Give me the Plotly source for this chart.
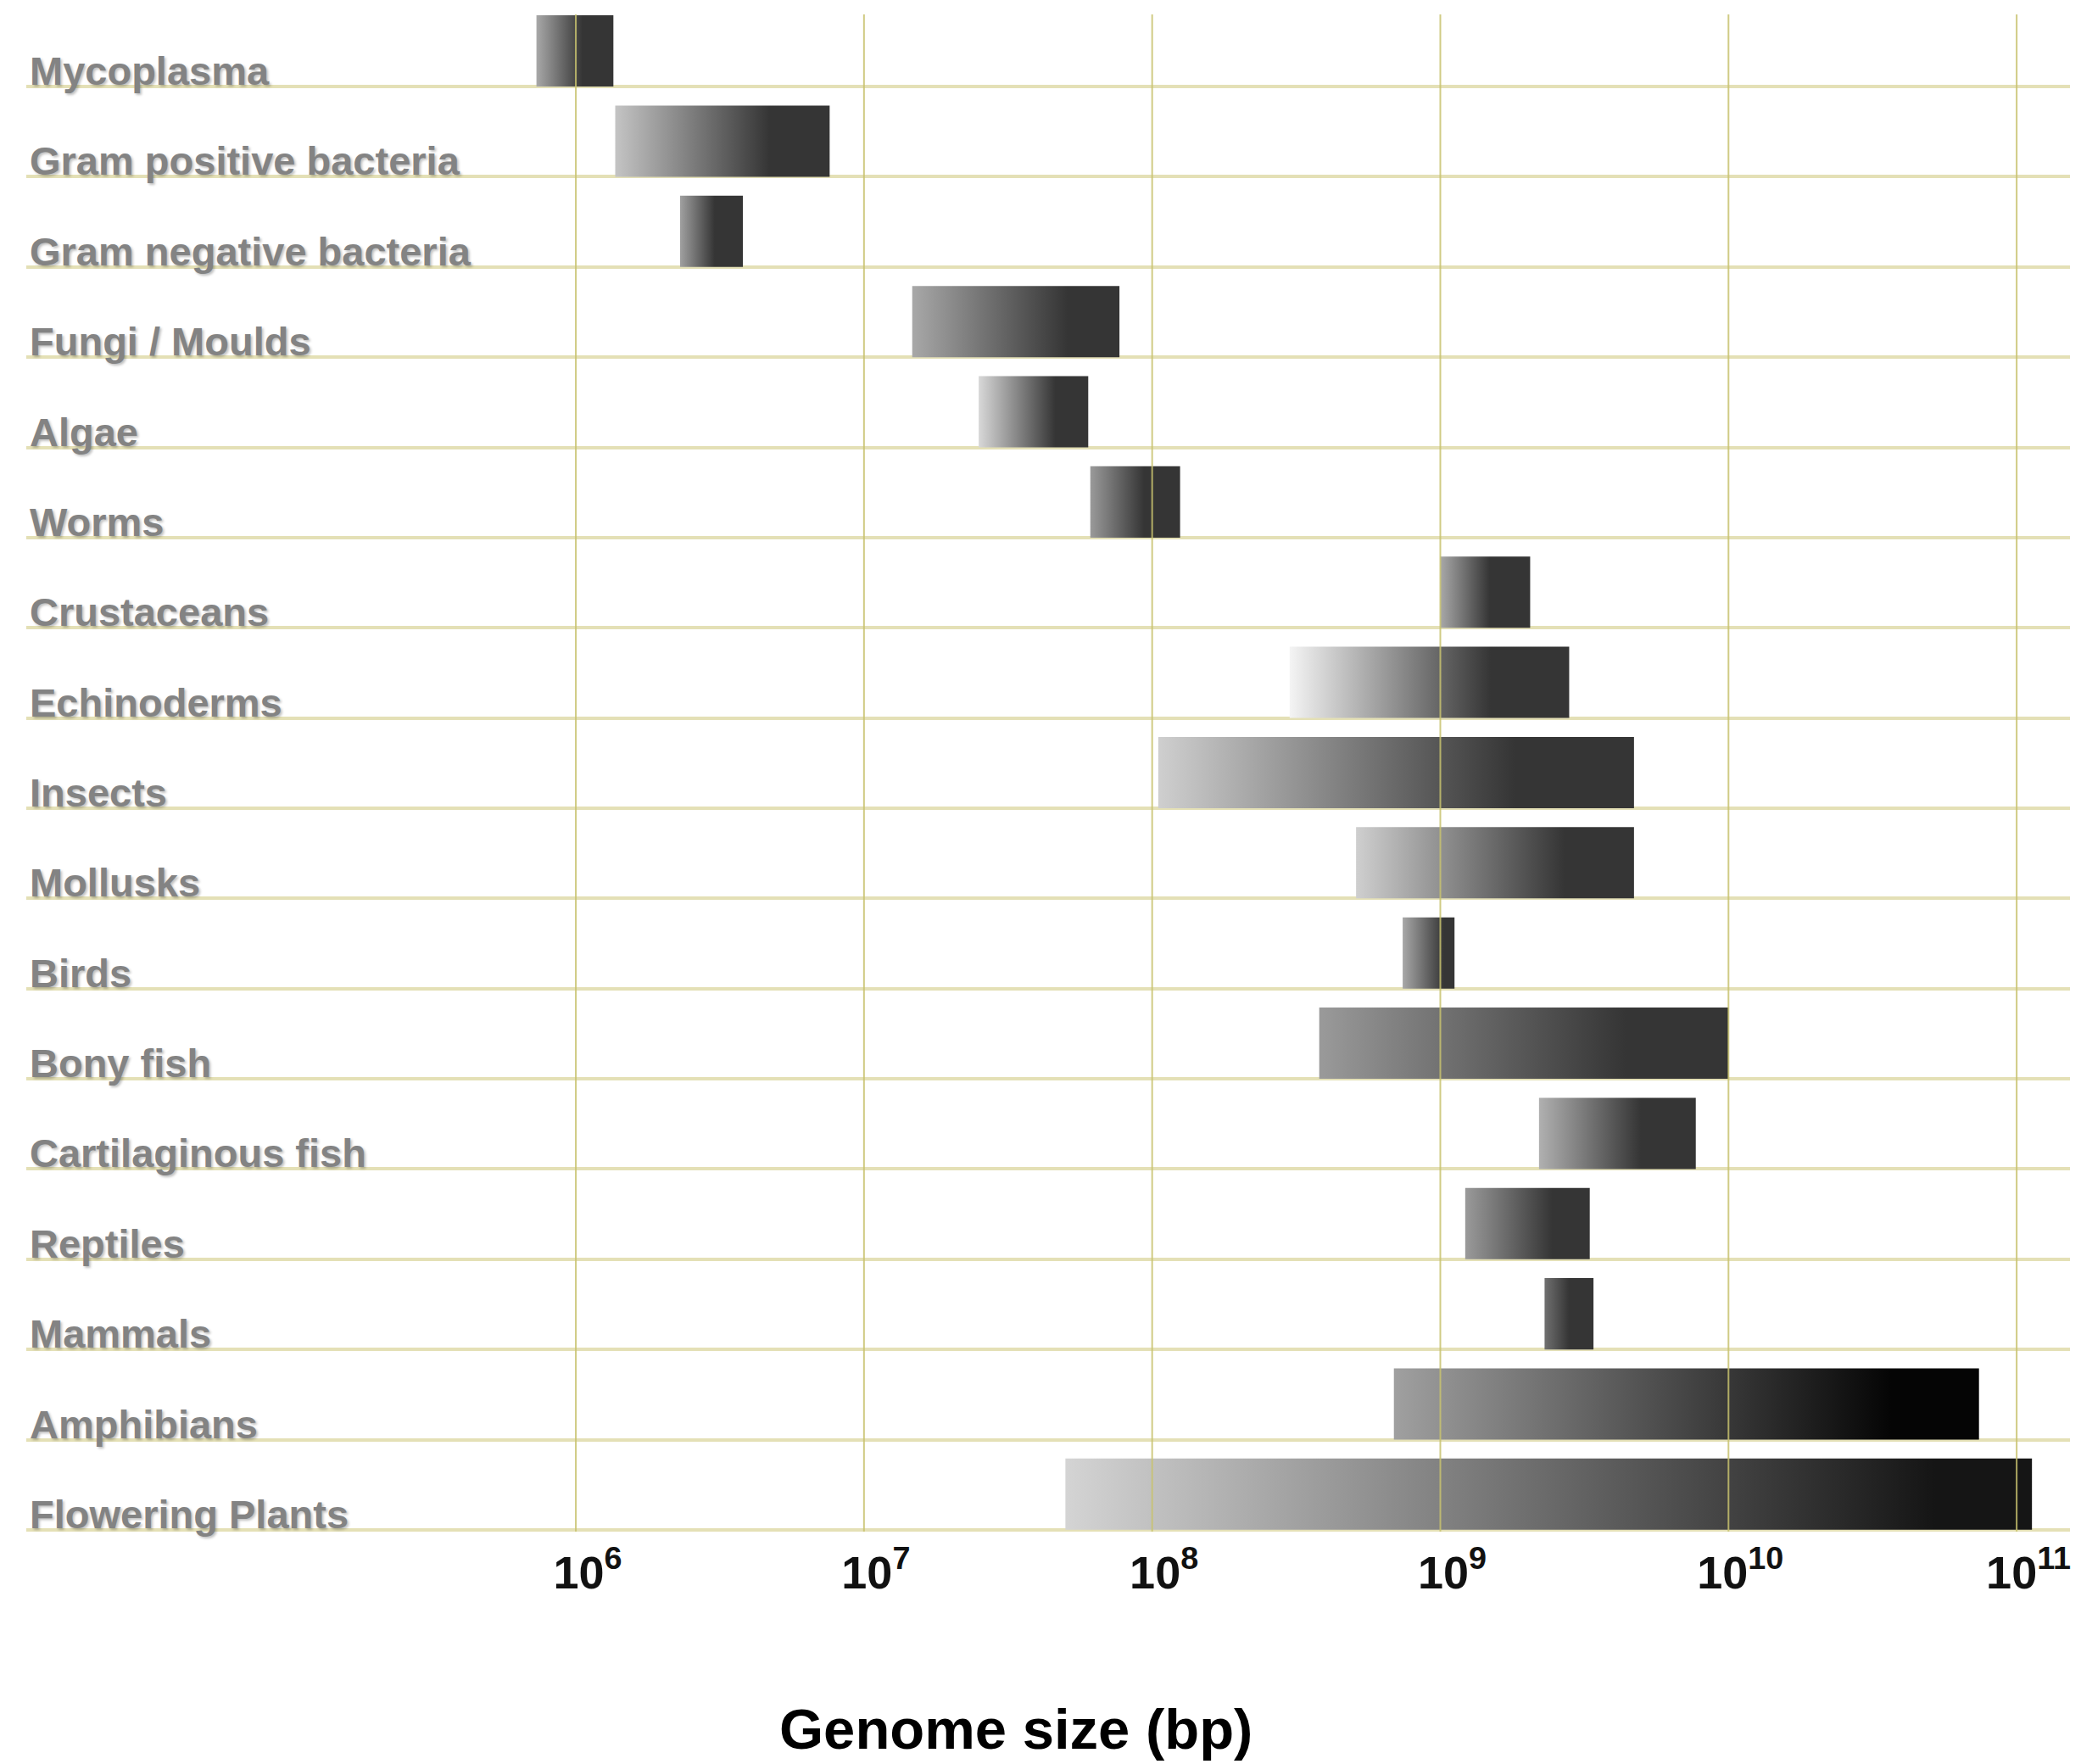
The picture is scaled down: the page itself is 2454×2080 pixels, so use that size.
import plotly.graph_objects as go

# ---------------- data ----------------
categories = [
    "Mycoplasma", "Gram positive bacteria", "Gram negative bacteria",
    "Fungi / Moulds", "Algae", "Worms", "Crustaceans", "Echinoderms",
    "Insects", "Mollusks", "Birds", "Bony fish", "Cartilaginous fish",
    "Reptiles", "Mammals", "Amphibians", "Flowering Plants",
]
min_bp = [7.3e5, 1.37e6, 2.3e6, 1.47e7, 2.5e7, 6.1e7, 1.0e9, 3.0e8,
          1.05e8, 5.1e8, 7.4e8, 3.8e8, 2.2e9, 1.22e9, 2.3e9, 6.9e8, 5.0e7]
max_bp = [1.35e6, 7.6e6, 3.8e6, 7.7e7, 6.0e7, 1.25e8, 2.05e9, 2.8e9,
          4.7e9, 4.7e9, 1.12e9, 1.0e10, 7.7e9, 3.3e9, 3.4e9, 7.4e10, 1.13e11]
tick_vals = [1e6, 1e7, 1e8, 1e9, 1e10, 1e11]
tick_text = ["10<sup>6</sup>", "10<sup>7</sup>", "10<sup>8</sup>",
             "10<sup>9</sup>", "10<sup>10</sup>", "10<sup>11</sup>"]
x_title = "Genome size (bp)"

# ---------------- styles ----------------
# (light shade at left, position where dark is reached, dark shade)
grad_light = ["#a8a8a8", "#c4c4c4", "#a0a0a0", "#a8a8a8", "#d8d8d8", "#9a9a9a",
              "#a8a8a8", "#f4f4f4", "#cfcfcf", "#cfcfcf", "#a8a8a8", "#9a9a9a",
              "#b0b0b0", "#9a9a9a", "#707070", "#a0a0a0", "#d4d4d4"]
grad_stop = [0.6, 0.72, 0.55, 0.75, 0.7, 0.6, 0.55, 0.72, 0.75, 0.75, 0.8,
             0.75, 0.65, 0.7, 0.5, 0.85, 0.9]
grad_dark = ["#353535"] * 15 + ["#050505", "#151515"]
BAR_H = 0.79
H_GRID = "#e4e0b6"
V_GRID = "rgba(200,194,110,0.85)"
LABEL_COLOR = "#838383"

fig = go.Figure()

for i, (cat, lo, hi) in enumerate(zip(categories, min_bp, max_bp)):
    fig.add_trace(go.Scatter(
        x=[lo, hi, hi, lo, lo],
        y=[i, i, i - BAR_H, i - BAR_H, i],
        mode="lines",
        line=dict(width=0, color=grad_dark[i]),
        fill="toself",
        fillcolor=grad_dark[i],
        fillgradient=dict(
            type="horizontal",
            colorscale=[[0, grad_light[i]], [grad_stop[i], grad_dark[i]],
                        [1, grad_dark[i]]],
        ),
        name=cat,
        hoverinfo="name",
        showlegend=False,
    ))

# category labels sitting on their baselines
annotations = []
for i, cat in enumerate(categories):
    annotations.append(dict(
        text=cat, xref="paper", x=0, xanchor="left", xshift=2,
        yref="y", y=i, yanchor="bottom", yshift=-10,
        showarrow=False,
        font=dict(family="Liberation Sans, Arial, sans-serif", size=47,
                  color=LABEL_COLOR, weight=700,
                  shadow="2px 2px 3px rgba(0,0,0,0.25)"),
    ))

annotations.append(dict(
    text=x_title, xref="paper", x=0.4842, xanchor="center",
    yref="paper", y=-0.1300, yanchor="middle", showarrow=False,
    font=dict(family="Liberation Sans, Arial, sans-serif", size=67,
              color="#000000", weight=700),
))

# vertical decade lines drawn over the bars
shapes = []
for v in tick_vals:
    shapes.append(dict(type="line", xref="x", yref="paper", x0=v, x1=v,
                       y0=0, y1=1, layer="above",
                       line=dict(color=V_GRID, width=2)))

# page body has an 8px margin: size the figure so the plot lands where the
# reference has it
fig.update_layout(
    width=2446, height=2072,
    margin=dict(l=23, r=13, t=9, b=274),
    paper_bgcolor="white", plot_bgcolor="white",
    annotations=annotations, shapes=shapes,
    showlegend=False,
    xaxis=dict(
        type="log", range=[4.093, 11.185],
        tickvals=tick_vals, ticktext=tick_text,
        showgrid=False, zeroline=False, showline=False, ticks="",
        tickfont=dict(family="Liberation Sans, Arial", size=54,
                      color="#111111", weight=700),
        ticklabelshift=14, ticklabelstandoff=12,
    ),
    yaxis=dict(
        range=[16.02, -0.80],
        tickvals=list(range(len(categories))),
        showticklabels=False, ticks="",
        showgrid=True, gridcolor=H_GRID, gridwidth=4,
        zeroline=False, showline=False,
    ),
)

fig.write_html("out.html")
